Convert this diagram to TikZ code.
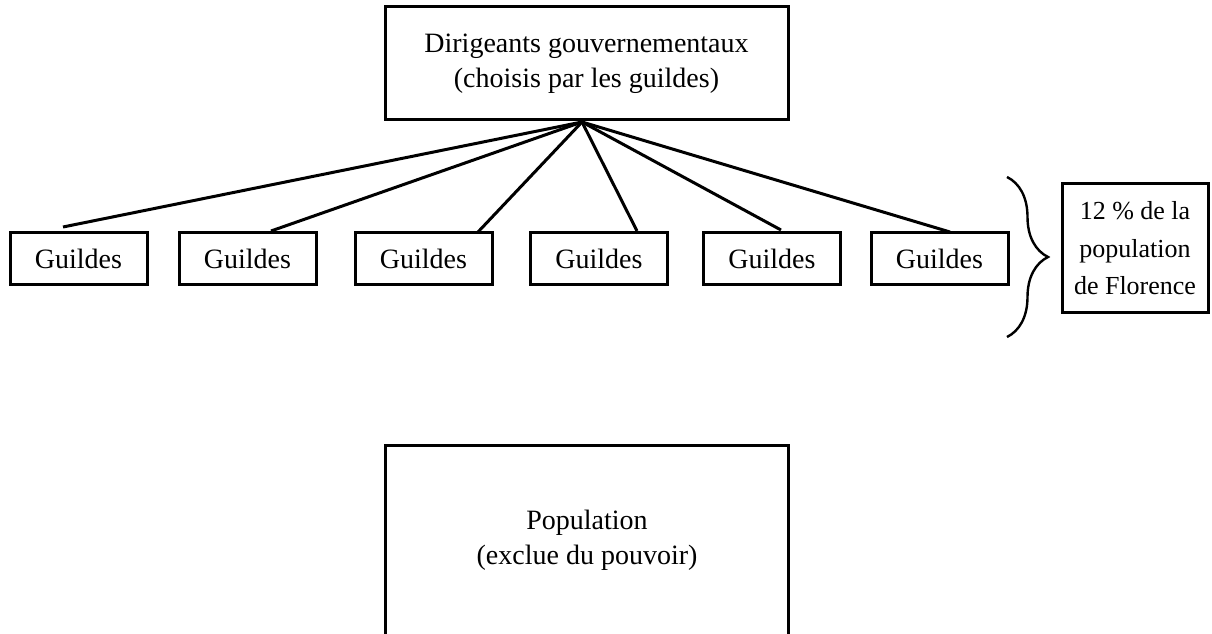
\documentclass[tikz,border=0pt]{standalone}
\usepackage{fontspec}
\setmainfont{Liberation Serif}
\usetikzlibrary{decorations.pathreplacing}
\begin{document}
\begin{tikzpicture}[x=1pt,y=1pt,
  txt/.style={inner sep=0pt, align=center, font=\fontsize{28}{35}\selectfont},
  box/.style={txt, draw, line width=3pt},
  guild/.style={box, minimum width=137pt, minimum height=52pt},
  link/.style={line width=3pt},
  frame/.style={line width=3pt},
]
\useasboundingbox (0,0) rectangle (1212,634);

% governing body
\node[box, minimum width=403pt, minimum height=113pt] (chefs) at (586.5,570.5)
  {Dirigeants gouvernementaux\\(choisis par les guildes)};
\coordinate (hub) at (582,512);

% the guilds
\foreach \i/\x in {1/78.5,2/247.5,3/423.5,4/599,5/772,6/939.5}
  \node[guild] (g\i) at (\x,375) {Guildes};

% upper ends of the links
\coordinate (e1) at (63,407);
\coordinate (e2) at (271,403);
\coordinate (e3) at (478,402);
\coordinate (e4) at (637,403);
\coordinate (e5) at (781,404);
\coordinate (e6) at (950,402);
\foreach \i in {1,...,6}
  \draw[link] (hub) -- (e\i);

% brace and share of the population
\coordinate (bt) at (1007,457);
\coordinate (bb) at (1007,297);
\draw[line width=2.4pt, decorate, decoration={brace, amplitude=41pt}] (bt) -- (bb);
\node[box, minimum width=146pt, minimum height=129pt,
      font=\fontsize{26}{37.5}\selectfont] (part) at (1135,385.5)
  {12 \% de la\\population\\de Florence};

% excluded population
\node[txt, minimum width=402pt, minimum height=188pt] (pop) at (587,94)
  {Population\\(exclue du pouvoir)};
\draw[frame] ([yshift=-10pt]pop.south west) -- (pop.north west)
  -- (pop.north east) -- ([yshift=-10pt]pop.south east);
\end{tikzpicture}
\end{document}
